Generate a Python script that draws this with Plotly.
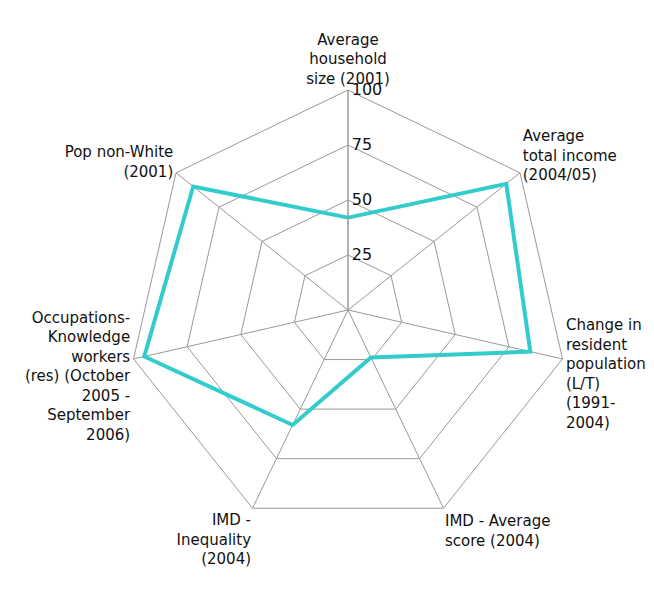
import plotly.graph_objects as go

# Axes of the radar, clockwise from the top
categories = [
    "Average<br>household<br>size (2001)",
    "Average<br>total income<br>(2004/05)",
    "Change in<br>resident<br>population<br>(L/T)<br>(1991-<br>2004)",
    "IMD - Average<br>score (2004)",
    "IMD -<br>Inequality<br>(2004)",
    "Occupations-<br>Knowledge<br>workers<br>(res) (October<br>2005 -<br>September<br>2006)",
    "Pop non-White<br>(2001)",
]
values = [42, 92, 85, 24, 58, 95, 90]
radial_ticks = [25, 50, 75, 100]

fig = go.Figure()

# polygon closed by repeating the first point
fig.add_trace(go.Scatterpolar(
    r=values + values[:1],
    theta=categories + categories[:1],
    mode="lines",
    line=dict(color="#33CCCC", width=4),
    showlegend=False,
    hoverinfo="skip",
))

fig.update_layout(
    width=654,
    height=592,
    margin=dict(l=0, r=0, t=0, b=0),
    paper_bgcolor="white",
    font=dict(family="DejaVu Sans", size=15, color="#111111"),
    polar=dict(
        domain=dict(x=[0.1835, 0.8563], y=[0.1182, 0.8615]),
        bgcolor="white",
        gridshape="linear",
        angularaxis=dict(
            direction="clockwise",
            rotation=90,
            showline=True,
            linecolor="#999999",
            linewidth=1,
            gridcolor="#999999",
            gridwidth=1,
            ticks="",
            tickfont=dict(size=15, color="#111111"),
        ),
        radialaxis=dict(
            range=[0, 100],
            tickvals=radial_ticks,
            angle=90,
            tickangle=90,
            side="clockwise",
            showline=True,
            linecolor="#999999",
            linewidth=1,
            gridcolor="#999999",
            gridwidth=1,
            ticks="",
            tickfont=dict(size=16, color="#111111"),
        ),
    ),
)

fig.write_html("out.html")
